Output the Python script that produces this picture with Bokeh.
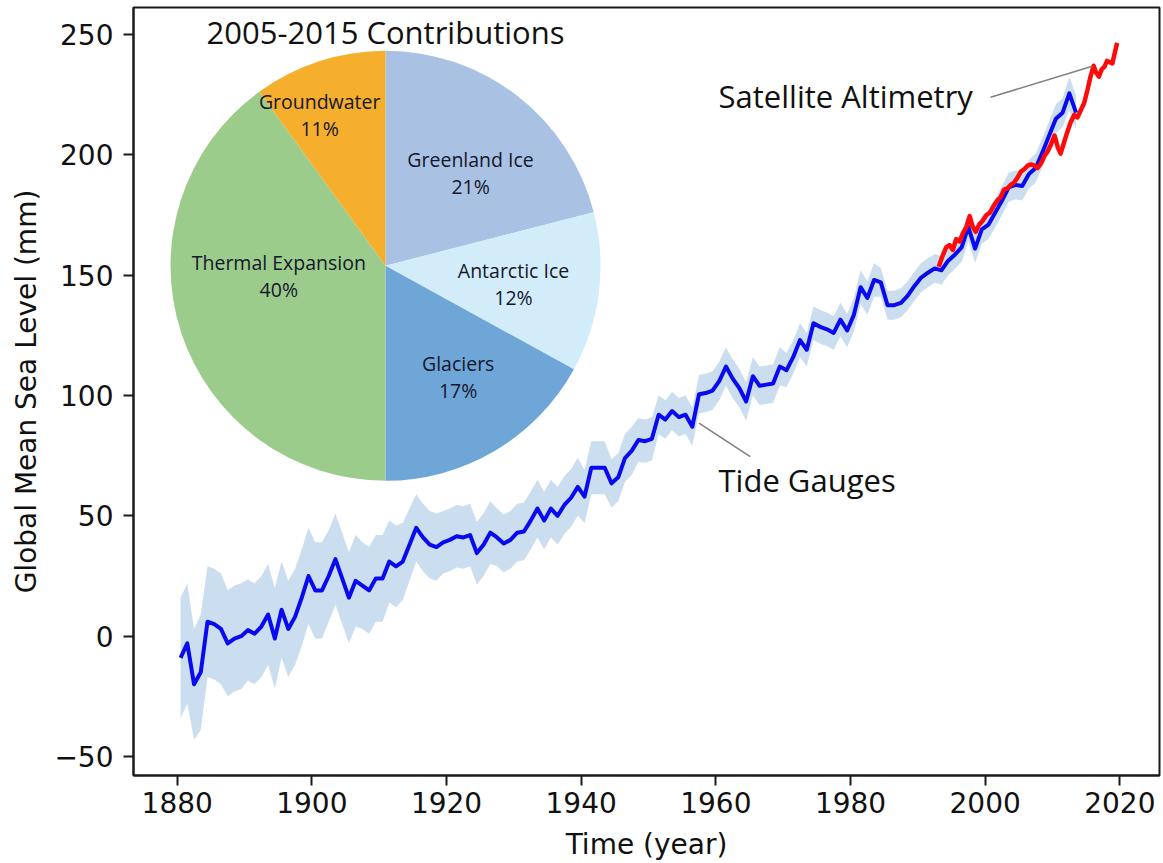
import math
from bokeh.plotting import figure
from bokeh.models import Range1d, FixedTicker
from bokeh.core.properties import value
from bokeh.embed import file_html
from bokeh.resources import INLINE

# ---------------- data ----------------
years = list(range(1880, 2014))
tide = [
    -9, -3, -20, -15, 6, 5, 3, -3, -1, 0,
    2.5, 1, 4, 9, -1, 11, 3, 8, 16, 25,
    19, 19, 25, 32, 24, 16, 23, 21, 19, 24,
    24, 31, 29, 31, 38, 45, 41, 38, 37, 39,
    40, 41.5, 41, 42, 34.5, 38, 43, 41, 38.5, 40,
    43, 43.5, 48, 53, 48, 53, 50, 54.5, 57.5, 62,
    58, 70, 70, 70, 63.5, 66, 74, 77, 81.5, 81,
    82, 92, 90, 93.5, 91, 92, 87, 100.5, 101, 102,
    106, 112, 107, 103, 97.5, 108, 104, 104.5, 105, 112,
    110.5, 116, 123, 119, 130, 128.5, 127.5, 126, 131.5, 127,
    133.5, 145, 140.5, 148, 147, 137.5, 137.5, 138.5, 141.5, 145.5,
    149, 151, 152.8, 152, 156, 158.5, 161.5, 170, 161, 169,
    171, 176, 181, 186.5, 187.5, 187, 192, 194.5, 201, 208,
    215, 217.5, 225.5, 217.5,
]
tide_err = [
    25, 25, 23, 24, 23, 23, 23, 22, 22, 22,
    21, 21, 21, 21, 21, 20, 20, 20, 20, 20,
    20, 20, 19, 19, 19, 19, 19, 18, 18, 18,
    18, 17, 17, 16, 15, 14, 14, 14, 14, 13,
    13, 13, 13, 13, 13, 13, 13, 12, 12, 12,
    12, 12, 12, 12, 12, 12, 12, 12, 12, 12,
    11, 11, 11, 11, 10, 10, 10, 10, 9, 9,
    9, 8, 8, 8, 8, 8, 8, 8, 8, 8,
    8, 8, 8, 8, 8, 8, 8, 8, 8, 8,
    7, 7, 7, 7, 7, 7, 7, 7, 7, 7,
    7, 7, 7, 7, 6, 6, 6, 6, 6, 6,
    6, 6, 6, 6, 6, 6, 6, 6, 6, 6,
    6, 6, 6, 6, 6, 6, 6, 6, 6, 6,
    6, 6, 7, 7,
]

sat_years = [
    1993.1, 1993.6, 1994.2, 1994.7, 1995.2, 1995.7, 1996.2, 1996.7, 1997.2, 1997.7,
    1998.1, 1998.6, 1999.1, 1999.6, 2000.2, 2000.7, 2001.2, 2001.8, 2002.3, 2002.8,
    2003.3, 2003.8, 2004.3, 2004.8, 2005.3, 2005.8, 2006.3, 2006.8, 2007.3, 2007.8,
    2008.3, 2008.8, 2009.3, 2009.8, 2010.3, 2010.8, 2011.2, 2011.7, 2012.2, 2012.7,
    2013.2, 2013.7, 2014.2, 2014.7, 2015.2, 2015.6, 2016.1, 2016.5, 2016.9, 2017.3,
    2017.7, 2018.1, 2018.5, 2018.9, 2019.3, 2019.6,
]
sat = [
    153.5, 157.5, 161.5, 162.5, 160.5, 165.0, 164.0, 167.5, 170.0, 174.5,
    170.5, 168.0, 171.0, 172.5, 175.0, 176.0, 178.5, 181.0, 182.5, 185.5,
    186.0, 187.5, 188.5, 190.5, 193.0, 194.0, 195.5, 196.0, 195.5, 194.5,
    196.5, 199.5, 201.5, 204.5, 208.0, 203.0, 200.5, 205.0, 209.5, 213.5,
    216.5, 215.5, 218.5, 221.5, 227.0, 232.0, 237.0, 234.0, 232.5, 235.5,
    236.5, 239.0, 238.5, 238.0, 243.0, 246.5,
]

pie_names = ["Greenland Ice", "Antarctic Ice", "Glaciers", "Thermal Expansion", "Groundwater"]
pie_share = [21, 12, 17, 40, 11]
pie_colors = ["#a9c2e4", "#d2ecfa", "#6fa6d8", "#9ccc8c", "#f6ae2d"]

x_ticks = [1880, 1900, 1920, 1940, 1960, 1980, 2000, 2020]
y_ticks = [-50, 0, 50, 100, 150, 200, 250]

# ---------------- layout / style ----------------
FONT_AX = "DejaVu Sans"
FONT_ANN = "Open Sans"
pie_cx, pie_cy = 1910.94, 153.9   # pie centre (data units)
pie_r = 215                       # screen px
label_nudge = [(6, 9), (0, 2), (7, 0), (16, -30), (-26, -28)]

p = figure(width=1163, height=863,
           x_range=Range1d(1873.51, 2025.89), y_range=Range1d(-57.9, 261.2),
           output_backend="svg", toolbar_location=None,
           min_border_left=133, min_border_right=4, min_border_top=7, min_border_bottom=87)
p.grid.visible = False
p.outline_line_color = "#1a1a1a"
p.outline_line_width = 2
p.background_fill_color = "white"
p.border_fill_color = "white"

# uncertainty band + lines
xs = [y + 0.5 for y in years]
lower = [v - e for v, e in zip(tide, tide_err)]
upper = [v + e for v, e in zip(tide, tide_err)]
p.varea(x=xs, y1=lower, y2=upper, fill_color="#c8dcef", fill_alpha=0.95)
p.line(xs, tide, line_color="#0a0af0", line_width=4, line_join="round")
p.line(sat_years, sat, line_color="#ff0a0a", line_width=4.5, line_join="round")

# pie
tot = 100.0
starts, ends, mids = [], [], []
c = 0.0
for s in pie_share:
    a0 = c / tot
    a1 = min(c + s, tot) / tot
    starts.append(math.pi / 2 - 2 * math.pi * a0)
    ends.append(math.pi / 2 - 2 * math.pi * a1)
    mids.append((a0 + a1) / 2)
    c += s
p.wedge(x=[pie_cx] * 5, y=[pie_cy] * 5, radius=pie_r, radius_units="screen",
        start_angle=starts, end_angle=ends, direction="clock",
        fill_color=pie_colors, line_color=None)

lab_r = 0.6 * pie_r
dx = [lab_r * math.sin(2 * math.pi * m) + n[0] for m, n in zip(mids, label_nudge)]
dy = [-lab_r * math.cos(2 * math.pi * m) + n[1] for m, n in zip(mids, label_nudge)]
labels = [f"{n}\n{s}%" for n, s in zip(pie_names, pie_share)]
p.text(x=[pie_cx] * 5, y=[pie_cy] * 5, text=labels, x_offset=dx, y_offset=dy,
       text_align="center", text_baseline="middle", text_font=value(FONT_ANN),
       text_font_size="19.5px", text_line_height=1.0, text_color="#15172a")
p.text(x=[pie_cx], y=[pie_cy], text=["2005-2015 Contributions"], y_offset=-(pie_r + 19),
       text_align="center", text_baseline="alphabetic", text_font=value(FONT_ANN),
       text_font_size="31px", text_color="#111111")

# annotations
p.text(x=[1960.4, 1960.4], y=[224.3, 65.0], text=["Satellite Altimetry", "Tide Gauges"],
       text_align="left", text_baseline="alphabetic", text_font=value(FONT_ANN),
       text_font_size="31px", text_color="#111111")
p.segment(x0=[2000.8, 1957.5], y0=[223.9, 88.5], x1=[2015.9, 1965.1], y1=[236.8, 74.6],
          line_color="#808080", line_width=1.6)

# axes
p.xaxis.ticker = FixedTicker(ticks=x_ticks)
p.yaxis.ticker = FixedTicker(ticks=y_ticks)
p.yaxis.major_label_overrides = {t: (f"\u2212{abs(t)}" if t < 0 else str(t)) for t in y_ticks}
p.xaxis.axis_label = "Time (year)"
p.yaxis.axis_label = "Global Mean Sea Level (mm)"
for ax in (p.xaxis, p.yaxis):
    ax.axis_line_color = "#1a1a1a"
    ax.axis_line_width = 2
    ax.major_tick_line_color = "#1a1a1a"
    ax.major_tick_line_width = 2
    ax.major_tick_out = 10
    ax.major_tick_in = 0
    ax.minor_tick_line_color = None
    ax.major_label_text_font = FONT_AX
    ax.major_label_text_font_size = "28px"
    ax.major_label_text_color = "#111111"
    ax.axis_label_text_font = FONT_AX
    ax.axis_label_text_font_size = "28px"
    ax.axis_label_text_font_style = "normal"
    ax.axis_label_text_color = "#111111"
p.xaxis.major_label_standoff = 6
p.xaxis.axis_label_standoff = 12
p.yaxis.major_label_standoff = 10
p.yaxis.axis_label_standoff = 8

open("out.html", "w").write(file_html(p, INLINE))
